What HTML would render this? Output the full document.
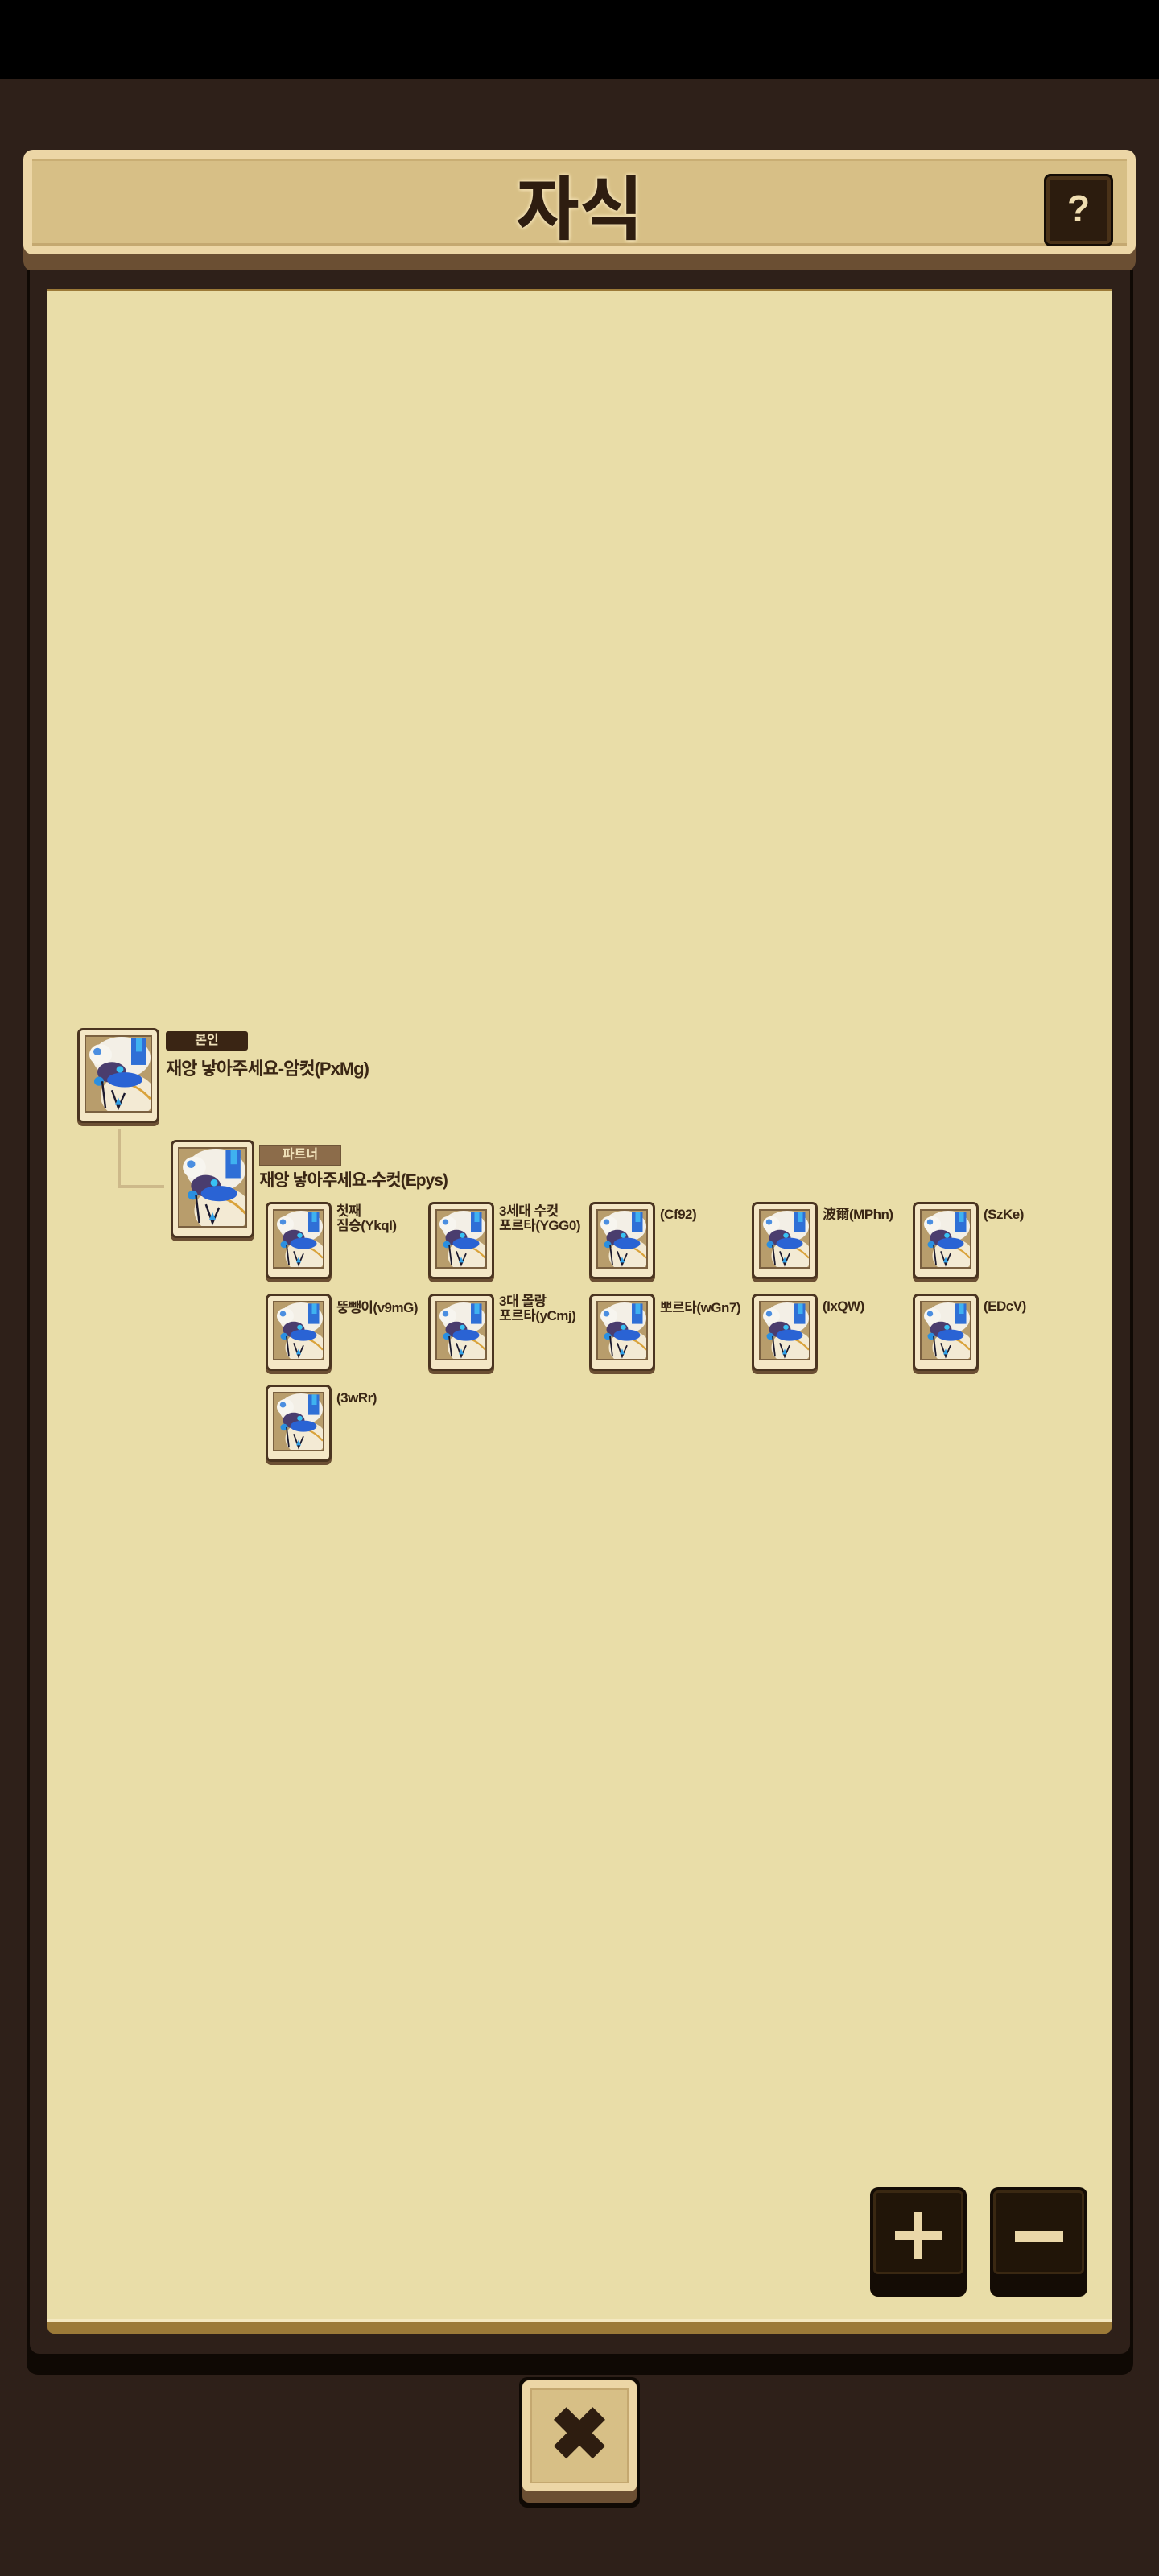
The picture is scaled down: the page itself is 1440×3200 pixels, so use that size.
<!DOCTYPE html>
<html><head><meta charset="utf-8">
<style>
*{margin:0;padding:0;box-sizing:border-box}
body{width:1440px;height:3200px;background:#2e2019;position:relative;overflow:hidden;font-family:"Liberation Sans","Noto Sans CJK KR",sans-serif;color:#3a2614}
.abs{position:absolute}
.card{position:absolute;background:#f4e7c6;border:3px solid #4a3420;border-radius:7px;box-shadow:0 4px 0 #6b4f33}
.card .in{position:absolute;left:6px;top:6px;right:6px;bottom:10px;background:#b89d6c;border:2px solid #7a6040;overflow:hidden}
.card svg{width:100%;height:100%;display:block}
.lbl{position:absolute;font-weight:bold;font-size:17px;line-height:18px;color:#3a2614;white-space:nowrap;letter-spacing:-0.5px}
</style></head><body>
<svg width="0" height="0" style="position:absolute">
<defs>
<symbol id="p" viewBox="0 0 40 50" preserveAspectRatio="none">
<rect width="40" height="50" fill="#b89d6c"/>
<ellipse cx="22" cy="14" rx="18" ry="14" fill="#f3efe6"/>
<rect x="28" y="1" width="9" height="18" fill="#2f6fd6"/>
<rect x="31" y="1" width="4" height="9" fill="#3fb2f0"/>
<circle cx="9" cy="12" r="7" fill="#f7f5ef"/>
<circle cx="7" cy="10" r="2.5" fill="#4b8ee0"/>
<ellipse cx="26" cy="40" rx="17" ry="15" fill="#f3ead4"/>
<path d="M20 32 Q30 30 40 42" stroke="#d9a23a" stroke-width="1.5" fill="none"/>
<ellipse cx="16" cy="24" rx="9" ry="7" fill="#4a3d6e"/>
<ellipse cx="24" cy="29" rx="11" ry="5" fill="#2a63d4"/>
<circle cx="21" cy="22" r="2.2" fill="#37c1f4"/>
<circle cx="8" cy="30" r="3" fill="#2a8fe0"/>
<path d="M10 30 L12 48 M16 36 L20 48 L24 38" stroke="#1c1a2e" stroke-width="1.2" fill="none"/>
<path d="M18 46 L20 41 L22 46 Z" fill="#2fa0e8"/>
</symbol>
</defs></svg>

<div class="abs" style="left:0;top:0;width:1440px;height:98px;background:#000"></div>

<!-- header -->
<div class="abs" style="left:29px;top:188px;width:1382px;height:150px;background:#6b4f33;border-radius:14px"></div>
<div class="abs" style="left:29px;top:186px;width:1382px;height:130px;background:#ecd6a6;border-radius:12px"></div>
<div class="abs" style="left:40px;top:197px;width:1360px;height:108px;background:#d7bf86;border-bottom:3px solid #c4a870;border-top:3px solid #c9ae74"></div>
<div class="abs" style="left:0;top:206px;width:1440px;text-align:center;font-size:86px;font-weight:bold;line-height:110px;color:#2e1d10;text-shadow:0 0 4px #f3e2b6,0 0 4px #f3e2b6,0 0 6px #f3e2b6">자식</div>
<div class="abs" style="left:1297px;top:216px;width:86px;height:90px;background:#2c1c0e;border:3px solid #140c05;border-radius:8px;box-shadow:inset 0 0 0 4px #4a3218"></div>
<div class="abs" style="left:1297px;top:222px;width:86px;text-align:center;font-size:46px;font-weight:bold;color:#f0ddb0;line-height:74px">?</div>

<!-- panel frame -->
<div class="abs" style="left:33px;top:336px;width:1375px;height:2614px;background:#0f0904;border-radius:0 0 14px 14px"></div>
<div class="abs" style="left:37px;top:336px;width:1367px;height:2588px;background:#2e2019;border-radius:0 0 12px 12px"></div>
<div class="abs" style="left:59px;top:359px;width:1322px;height:2540px;background:#9c7a38;border-radius:0 0 8px 8px"></div>
<div class="abs" style="left:59px;top:361px;width:1322px;height:2524px;background:#e9dda8;border-bottom:4px solid #f4e8c0"></div>

<!-- self -->
<div class="card" style="left:96px;top:1277px;width:102px;height:118px"><div class="in"><svg><use href="#p"/></svg></div></div>
<div class="abs" style="left:206px;top:1281px;width:102px;height:24px;background:#3a2514;border-radius:3px;color:#efe0b8;font-size:16px;font-weight:bold;text-align:center;line-height:24px">본인</div>
<div class="lbl" style="left:206px;top:1314px;font-size:22px;line-height:28px;letter-spacing:-1px">재앙 낳아주세요-암컷(PxMg)</div>

<!-- connector -->
<div class="abs" style="left:146px;top:1403px;width:4px;height:72px;background:#cdb98a"></div>
<div class="abs" style="left:146px;top:1472px;width:58px;height:4px;background:#cdb98a"></div>

<!-- partner -->
<div class="card" style="left:212px;top:1416px;width:104px;height:122px"><div class="in"><svg><use href="#p"/></svg></div></div>
<div class="abs" style="left:322px;top:1422px;width:102px;height:26px;background:#8c6c4a;border:1px solid #6f5538;color:#efe0b8;font-size:16px;font-weight:bold;text-align:center;line-height:24px">파트너</div>
<div class="lbl" style="left:322px;top:1453px;font-size:21px;line-height:28px;letter-spacing:-1px">재앙 낳아주세요-수컷(Epys)</div>

<!-- children -->
<div class="card" style="left:330px;top:1493px;width:82px;height:96px"><div class="in"><svg><use href="#p"/></svg></div></div>
<div class="lbl" style="left:418px;top:1496px">첫째<br>짐승(YkqI)</div>
<div class="card" style="left:532px;top:1493px;width:82px;height:96px"><div class="in"><svg><use href="#p"/></svg></div></div>
<div class="lbl" style="left:620px;top:1496px">3세대 수컷<br>포르타(YGG0)</div>
<div class="card" style="left:732px;top:1493px;width:82px;height:96px"><div class="in"><svg><use href="#p"/></svg></div></div>
<div class="lbl" style="left:820px;top:1500px">(Cf92)</div>
<div class="card" style="left:934px;top:1493px;width:82px;height:96px"><div class="in"><svg><use href="#p"/></svg></div></div>
<div class="lbl" style="left:1022px;top:1500px">波爾(MPhn)</div>
<div class="card" style="left:1134px;top:1493px;width:82px;height:96px"><div class="in"><svg><use href="#p"/></svg></div></div>
<div class="lbl" style="left:1222px;top:1500px">(SzKe)</div>

<div class="card" style="left:330px;top:1607px;width:82px;height:96px"><div class="in"><svg><use href="#p"/></svg></div></div>
<div class="lbl" style="left:418px;top:1616px">뚱뺑이(v9mG)</div>
<div class="card" style="left:532px;top:1607px;width:82px;height:96px"><div class="in"><svg><use href="#p"/></svg></div></div>
<div class="lbl" style="left:620px;top:1608px">3대 몰랑<br>포르타(yCmj)</div>
<div class="card" style="left:732px;top:1607px;width:82px;height:96px"><div class="in"><svg><use href="#p"/></svg></div></div>
<div class="lbl" style="left:820px;top:1616px">뽀르타(wGn7)</div>
<div class="card" style="left:934px;top:1607px;width:82px;height:96px"><div class="in"><svg><use href="#p"/></svg></div></div>
<div class="lbl" style="left:1022px;top:1614px">(IxQW)</div>
<div class="card" style="left:1134px;top:1607px;width:82px;height:96px"><div class="in"><svg><use href="#p"/></svg></div></div>
<div class="lbl" style="left:1222px;top:1614px">(EDcV)</div>

<div class="card" style="left:330px;top:1720px;width:82px;height:96px"><div class="in"><svg><use href="#p"/></svg></div></div>
<div class="lbl" style="left:418px;top:1728px">(3wRr)</div>

<!-- zoom buttons -->
<div class="abs" style="left:1081px;top:2717px;width:120px;height:136px;background:#140c05;border-radius:10px"></div>
<div class="abs" style="left:1085px;top:2721px;width:112px;height:104px;background:#211508;border:3px solid #3a2812;border-radius:6px"></div>
<div class="abs" style="left:1136px;top:2748px;width:10px;height:58px;background:#ead7a8"></div>
<div class="abs" style="left:1112px;top:2772px;width:58px;height:10px;background:#ead7a8"></div>
<div class="abs" style="left:1230px;top:2717px;width:121px;height:136px;background:#140c05;border-radius:10px"></div>
<div class="abs" style="left:1234px;top:2721px;width:113px;height:104px;background:#211508;border:3px solid #3a2812;border-radius:6px"></div>
<div class="abs" style="left:1261px;top:2771px;width:60px;height:14px;background:#ead7a8"></div>

<!-- close button -->
<div class="abs" style="left:645px;top:2953px;width:150px;height:162px;background:#0f0904;border-radius:10px"></div>
<div class="abs" style="left:649px;top:2957px;width:142px;height:152px;background:#6b4f33;border-radius:8px"></div>
<div class="abs" style="left:649px;top:2957px;width:142px;height:138px;background:#ecd6a6;border-radius:8px"></div>
<div class="abs" style="left:659px;top:2967px;width:122px;height:118px;background:#d7bf86;border:2px solid #c4a870"></div>
<div class="abs" style="left:649px;top:2980px;width:142px;text-align:center;font-size:90px;font-weight:bold;color:#2e1d10;line-height:90px">✖</div>
</body></html>
